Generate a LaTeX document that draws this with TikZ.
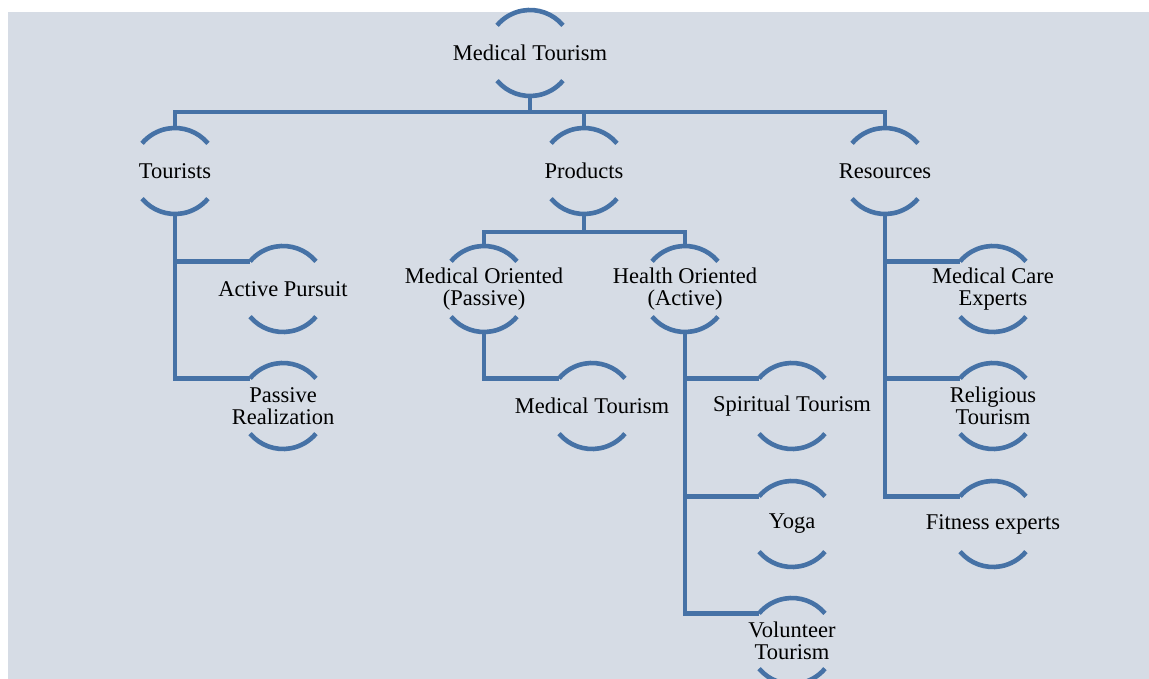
\documentclass[tikz,border=0pt]{standalone}
\usepackage{fontspec}
\setmainfont{Liberation Serif}
\definecolor{linkblue}{RGB}{70,114,166}
\definecolor{panel}{RGB}{214,220,229}
\tikzset{
  link/.style={draw=linkblue, line width=4.6pt},
  bub/.style={inner sep=0pt, outer sep=0pt, align=center, text=black,
    font=\fontsize{22.5pt}{22pt}\selectfont},
}
\begin{document}
\begin{tikzpicture}[x=1pt, y=-1pt]
  \useasboundingbox (0,0) rectangle (1149,679);
  \fill[panel] (8,12) rectangle (1149,679);

  % labels, each centred in an open ring of radius 43pt
  \node[bub] (root) at (530,53) {Medical Tourism};
  \node[bub] (tour) at (175,171) {Tourists};
  \node[bub] (prod) at (584,171) {Products};
  \node[bub] (res)  at (885,171) {Resources};

  \node[bub] (ap) at (283,289) {Active Pursuit};
  \node[bub] (pr) at (283,406) {Passive\\Realization};

  \node[bub] (mo) at (484,289) {Medical Oriented\\(Passive)};
  \node[bub] (ho) at (685,289) {Health Oriented\\(Active)};
  \node[bub] (mt) at (592,406) {Medical Tourism};
  \node[bub] (sp) at (792,406) {Spiritual Tourism};
  \node[bub] (yo) at (792,524) {Yoga};
  \node[bub] (vo) at (792,641) {Volunteer\\Tourism};

  \node[bub] (mc) at (993,289) {Medical Care\\Experts};
  \node[bub] (rt) at (993,406) {Religious\\Tourism};
  \node[bub] (fe) at (993,524) {Fitness experts};

  % ring arcs and their attachment points
  \foreach \n in {root,tour,prod,res,ap,pr,mo,ho,mt,sp,yo,vo,mc,rt,fe} {
    \coordinate (\n-t) at ([yshift=43pt]\n.center);
    \coordinate (\n-b) at ([yshift=-43pt]\n.center);
    \coordinate (\n-l) at ([shift={(140:43pt)}]\n.center);
    \draw[link] ([shift={(40:43pt)}]\n.center) arc[start angle=40, end angle=140, radius=43pt];
    \draw[link] ([shift={(220:43pt)}]\n.center) arc[start angle=220, end angle=320, radius=43pt];
  }

  \coordinate (bus) at (0,112);
  \coordinate (pbar) at (0,232);

  % top bus
  \draw[link] (root-b) -- (root-b |- bus);
  \draw[link] (tour-t) |- (res-t |- bus) -- (res-t);
  \draw[link] (prod-t) -- (prod-t |- bus);

  % tourists
  \draw[link] (tour-b) |- (pr-l);
  \draw[link] (tour-b |- ap-l) -- (ap-l);

  % products
  \draw[link] (prod-b) -- (prod-b |- pbar);
  \draw[link] (mo-t) |- (ho-t |- pbar) -- (ho-t);
  \draw[link] (mo-b) |- (mt-l);
  \draw[link] (ho-b) |- (vo-l);
  \draw[link] (ho-b |- sp-l) -- (sp-l);
  \draw[link] (ho-b |- yo-l) -- (yo-l);

  % resources
  \draw[link] (res-b) |- (fe-l);
  \draw[link] (res-b |- mc-l) -- (mc-l);
  \draw[link] (res-b |- rt-l) -- (rt-l);
\end{tikzpicture}
\end{document}
